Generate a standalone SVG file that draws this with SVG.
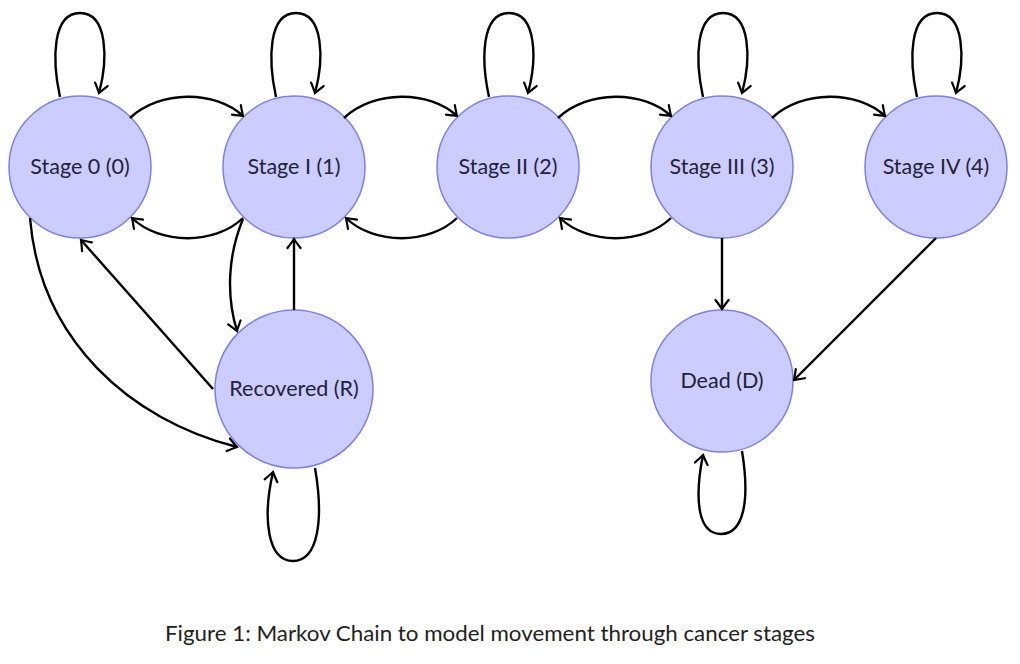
<svg xmlns="http://www.w3.org/2000/svg" width="1020" height="664" viewBox="0 0 1020 664">
<style>
.node circle{fill:#ccccff;stroke:#7f7fe8;stroke-width:1.5}
.node text{font-family:Lato,"Open Sans",sans-serif;font-size:21.5px;fill:#22223a;text-anchor:middle}
.edges path{fill:none;stroke:#000;stroke-width:2.4;marker-end:url(#arr)}
.caption{font-family:Lato,"Open Sans",sans-serif;font-size:20.5px;fill:#222;text-anchor:middle}
</style>
<defs>
<marker id="arr" markerUnits="userSpaceOnUse" viewBox="-12 -8 14 16" refX="0" refY="0" markerWidth="14" markerHeight="16" orient="auto">
<path d="M-9,-6.5 Q-3,-2 0,0 Q-3,2 -9,6.5" fill="none" stroke="#000" stroke-width="2.2" stroke-linecap="round"/>
</marker>
</defs>
<rect width="1020" height="664" fill="#fff"/>
<g id="s0" class="node"><circle cx="80" cy="167" r="71"/><text x="80" y="174">Stage 0 (0)</text></g>
<g id="s1" class="node"><circle cx="294" cy="167" r="71"/><text x="294" y="174">Stage I (1)</text></g>
<g id="s2" class="node"><circle cx="508" cy="167" r="71"/><text x="508" y="174">Stage II (2)</text></g>
<g id="s3" class="node"><circle cx="722" cy="167" r="71"/><text x="722" y="174">Stage III (3)</text></g>
<g id="s4" class="node"><circle cx="936" cy="167" r="71"/><text x="936" y="174">Stage IV (4)</text></g>
<g id="r" class="node"><circle cx="294" cy="389" r="79"/><text x="294" y="396">Recovered (R)</text></g>
<g id="d" class="node"><circle cx="722" cy="381" r="71"/><text x="722" y="388">Dead (D)</text></g>
<g id="edges" class="edges">
<path d="M60,97 C52,60 52,13 80,13 C108,13 108,60 99,93"/>
<path d="M276,97 C268,60 268,13 296,13 C324,13 324,60 315,93"/>
<path d="M489,97 C481,60 481,13 509,13 C537,13 537,60 528,93"/>
<path d="M703,97 C695,60 695,13 723,13 C751,13 751,60 742,93"/>
<path d="M917,97 C909,60 909,13 937,13 C965,13 965,60 956,93"/>
<path d="M130,118 C160,90 215,90 243,116"/>
<path d="M344,118 C374,90 429,90 457,116"/>
<path d="M558,118 C588,90 643,90 671,116"/>
<path d="M772,118 C802,90 857,90 885,116"/>
<path d="M243,218 C215,245 160,245 132,218"/>
<path d="M457,218 C429,245 374,245 346,218"/>
<path d="M671,218 C643,245 588,245 560,218"/>
<path d="M30,218 C40,340 130,420 237,447"/>
<path d="M213,389 L81,240"/>
<path d="M243,219 C228,255 226,295 237,331"/>
<path d="M294,310 L294,239"/>
<path d="M315,468 C324,520 318,561 293,561 C268,561 262,520 273,472"/>
<path d="M722,238 L722,309"/>
<path d="M936,238 L794,380"/>
<path d="M742,451 C750,500 744,534 721,534 C698,534 694,500 703,455"/>
</g>
<text class="caption" x="490" y="641" textLength="650" lengthAdjust="spacingAndGlyphs">Figure 1: Markov Chain to model movement through cancer stages</text>
</svg>
